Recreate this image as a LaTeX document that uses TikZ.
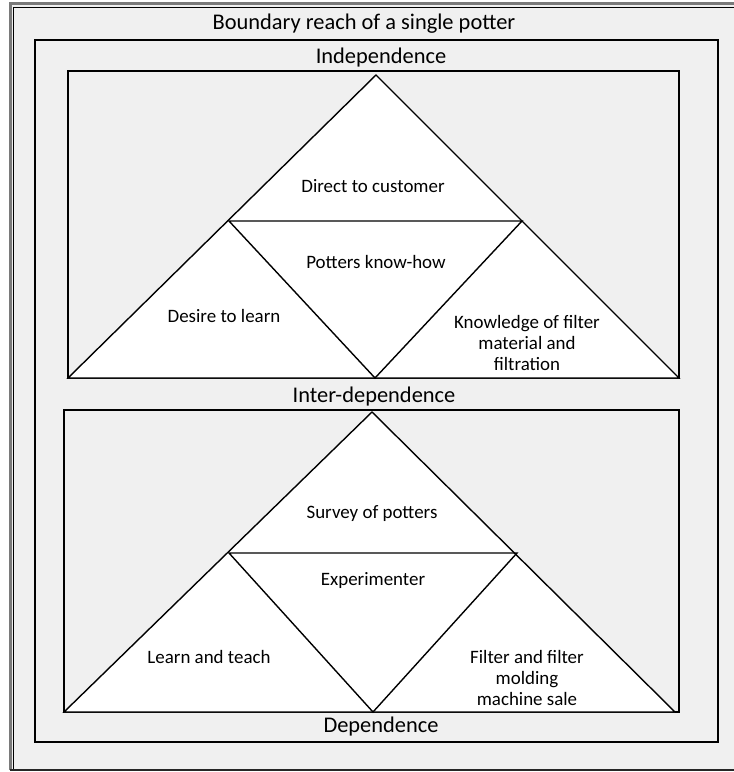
\documentclass[tikz,border=0pt]{standalone}
\usepackage{fontspec}
\setmainfont{Carlito}
\definecolor{bg}{HTML}{F0F0F0}
\definecolor{rim}{HTML}{7A7A7A}
\begin{document}
\begin{tikzpicture}[x=1bp,y=-1bp,
  frame/.style={draw=black, line width=1.4bp},
  tri/.style={draw=black, line width=1.4bp, fill=white, line join=miter},
  edge/.style={draw=black, line width=1.4bp},
  head/.style={font=\fontsize{22.5}{26}\selectfont, inner sep=0},
  lab/.style={font=\fontsize{19}{21}\selectfont, inner sep=0, align=center}]
\useasboundingbox (0,0) rectangle (734,772);
\clip (0,0) rectangle (734,772);
\fill[white] (0,0) rectangle (734,772);
% outer boundary frame
\fill[bg] (11,4) rectangle (745,770);
\draw[rim, line width=2.5bp] (10.5,770) -- (10.5,3.5) -- (745,3.5);
\draw[black, line width=1bp] (13,770) -- (13,8) -- (745,8);
\draw[black!85, line width=2.5bp] (10,770) -- (745,770);
% second frame
\draw[frame] (35,40) rectangle (718,742);
% upper box
\draw[frame] (68,71) rectangle (679,378);
\coordinate (aT) at (376,75);
\coordinate (aL) at (68,378);
\coordinate (aR) at (679,378);
\coordinate (aML) at (229,221);
\coordinate (aMR) at (522,221);
\coordinate (aB) at (375,378);
\path[tri] (aL) -- (aT) -- (aR) -- cycle;
\draw[edge] (aML) -- (aMR) -- (aB) -- cycle;
% lower box
\draw[frame] (64,410) rectangle (679,712);
\coordinate (bT) at (372,412);
\coordinate (bL) at (64,712);
\coordinate (bR) at (675,712);
\coordinate (bML) at (229,553);
\coordinate (bMR) at (517,553);
\coordinate (bB) at (373,712);
\path[tri] (bL) -- (bT) -- (bR) -- cycle;
\draw[edge] (bML) -- (bMR) -- (bB) -- cycle;
% headings
\node[head] (t0) at (364,24) {Boundary reach of a single potter};
\node[head] (t1) at (381,58) {Independence};
\node[head] (t2) at (374,397) {Inter-dependence};
\node[head] (t3) at (381,727) {Dependence};
% upper labels
\node[lab] (u1) at (373,186) {Direct to customer};
\node[lab] (u2) at (376,262) {Potters know-how};
\node[lab] (u3) at (224,316) {Desire to learn};
\node[lab] (u4) at (527,343) {Knowledge of filter\\material and\\filtration};
% lower labels
\node[lab] (l1) at (372,514) {Survey of potters};
\node[lab] (l2) at (373,581) {Experimenter};
\node[lab] (l3) at (209,657) {Learn and teach};
\node[lab] (l4) at (527,678) {Filter and filter\\molding\\machine sale};
\end{tikzpicture}
\end{document}
